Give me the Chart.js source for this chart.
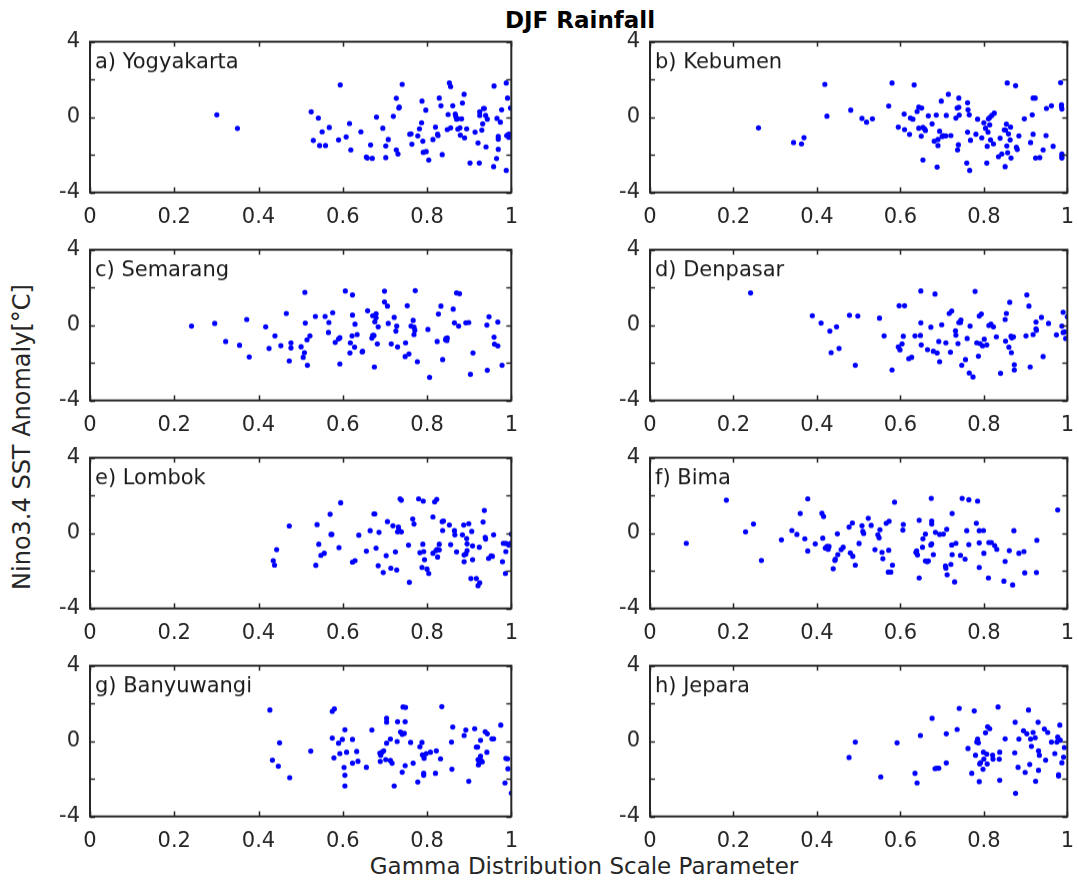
<!DOCTYPE html>
<html>
<head>
<meta charset="utf-8">
<script src="https://cdn.jsdelivr.net/npm/chart.js@4.4.1/dist/chart.umd.min.js"></script>
<style>
  body { margin: 0; background: #fff; width: 1078px; height: 885px; position: relative; overflow: hidden; }
  canvas { position: absolute; }
  .lbl { position: absolute; font-family: "DejaVu Sans", sans-serif; color: #262626; white-space: nowrap; transform: translate(-50%, -50%); }
</style>
</head>
<body>
<div class="lbl" style="left:580px; top:20px; font-size:23px; font-weight:bold; color:#000;">DJF Rainfall</div>
<div class="lbl" style="left:22px; top:437px; font-size:24px; transform: translate(-50%, -50%) rotate(-90deg);">Nino3.4 SST Anomaly[°C]</div>
<div class="lbl" style="left:584px; top:866px; font-size:23px;">Gamma Distribution Scale Parameter</div>

<script>
// tick values
const xTicks = [0, 0.2, 0.4, 0.6, 0.8, 1];
const yTicks = [-4, -2, 0, 2, 4];

// station points: [scale parameter, SST anomaly]
const yogyakarta = [
  [0.301,0.12],[0.350,-0.60],[0.525,0.28],[0.542,-0.05],[0.530,-1.24],[0.551,-0.78],[0.545,-1.51],[0.559,-1.51],[0.568,-0.55],[0.594,1.71],
  [0.590,-1.21],[0.608,-1.05],[0.616,-0.34],[0.619,-1.74],[0.643,-0.78],[0.656,-2.12],[0.658,-2.17],[0.666,-1.48],[0.670,-2.19],[0.680,0.00],
  [0.695,-0.59],[0.702,-1.53],[0.702,-2.15],[0.708,-1.19],[0.720,0.04],[0.727,1.00],[0.727,-1.74],[0.731,-1.96],[0.733,0.48],[0.734,0.53],
  [0.741,1.74],[0.759,-0.91],[0.762,-0.89],[0.764,-1.44],[0.778,-1.00],[0.782,-0.62],[0.787,-0.30],[0.788,0.85],[0.790,-1.28],[0.791,-1.87],
  [0.797,0.37],[0.798,-1.83],[0.804,-2.28],[0.814,-1.19],[0.820,-0.53],[0.825,-0.91],[0.826,-0.98],[0.829,1.01],[0.833,0.60],[0.836,-1.99],
  [0.848,-0.66],[0.850,0.14],[0.853,1.81],[0.856,1.62],[0.856,-0.57],[0.861,0.60],[0.867,0.16],[0.868,0.04],[0.870,-0.11],[0.873,-0.64],
  [0.873,-0.09],[0.878,-0.57],[0.879,-0.96],[0.882,-0.09],[0.884,0.75],[0.888,1.21],[0.889,-1.10],[0.894,-0.62],[0.902,-2.44],[0.914,-0.80],
  [0.921,-1.37],[0.924,-2.44],[0.925,0.28],[0.925,0.09],[0.930,-0.69],[0.932,-0.36],[0.934,0.46],[0.936,0.46],[0.939,0.09],[0.940,-1.58],
  [0.943,-0.11],[0.958,-2.63],[0.959,1.65],[0.965,-2.20],[0.966,-0.07],[0.969,-1.03],[0.969,-1.71],[0.969,-1.17],[0.974,-0.27],[0.977,0.39],
  [0.988,1.81],[0.988,-2.83],[0.989,-0.98],[0.991,1.01],[0.993,-0.92],[0.994,-1.07],[0.996,-0.91],[0.998,0.48]
];
const kebumen = [
  [0.260,-0.57],[0.344,-1.35],[0.363,-1.42],[0.369,-1.09],[0.419,1.74],[0.424,0.05],[0.481,0.37],[0.508,-0.07],[0.519,-0.27],[0.533,-0.09],
  [0.572,0.59],[0.580,1.81],[0.595,-0.53],[0.610,-0.66],[0.609,0.16],[0.622,-0.92],[0.624,-0.05],[0.630,-0.11],[0.633,1.71],[0.640,0.30],
  [0.644,0.53],[0.644,-0.59],[0.650,-1.01],[0.651,0.48],[0.654,-2.28],[0.654,-0.55],[0.658,-0.62],[0.660,-0.71],[0.667,0.07],[0.676,-0.36],
  [0.681,-1.28],[0.686,0.11],[0.688,-2.65],[0.690,-1.19],[0.690,-1.51],[0.694,-0.75],[0.698,0.85],[0.700,-1.03],[0.703,-0.98],[0.709,-1.00],
  [0.710,0.09],[0.715,1.21],[0.721,-0.98],[0.733,-0.05],[0.736,0.48],[0.737,-1.74],[0.739,-1.47],[0.740,1.01],[0.741,0.11],[0.740,0.52],
  [0.759,-2.44],[0.761,0.76],[0.761,-0.80],[0.762,0.39],[0.765,0.12],[0.766,-2.83],[0.768,-1.23],[0.781,-0.91],[0.785,-0.11],[0.795,-1.10],
  [0.800,-0.30],[0.804,-0.59],[0.807,-2.44],[0.808,-1.55],[0.810,-0.80],[0.811,-0.09],[0.814,-0.02],[0.814,-0.41],[0.816,-1.21],[0.819,0.09],
  [0.823,-1.42],[0.825,0.21],[0.835,-2.10],[0.839,-1.12],[0.843,-1.96],[0.849,-0.68],[0.851,-2.63],[0.852,-0.69],[0.854,-0.37],[0.855,-1.53],
  [0.856,1.81],[0.857,-1.89],[0.859,-0.89],[0.863,-1.21],[0.864,-0.53],[0.865,-2.17],[0.876,1.67],[0.878,-1.60],[0.880,-1.72],[0.884,-1.00],
  [0.897,-0.09],[0.912,-1.35],[0.916,0.12],[0.918,-0.91],[0.918,1.01],[0.923,1.01],[0.924,-2.17],[0.934,-2.15],[0.942,-1.74],[0.949,-0.98],
  [0.950,0.46],[0.962,0.60],[0.966,-1.55],[0.984,1.83],[0.986,0.66],[0.986,0.57],[0.987,0.43],[0.987,-1.96],[0.987,-2.08],[0.987,-2.17]
];
const semarang = [
  [0.241,-0.05],[0.296,0.09],[0.322,-0.87],[0.355,-1.07],[0.372,0.30],[0.378,-1.69],[0.417,-0.09],[0.425,-1.24],[0.439,-0.57],[0.453,-1.09],
  [0.466,0.62],[0.473,-1.90],[0.477,-0.94],[0.477,-1.21],[0.501,-1.15],[0.506,-1.71],[0.509,-1.46],[0.510,1.74],[0.511,0.11],[0.515,-0.78],
  [0.516,-2.13],[0.522,-0.57],[0.535,0.46],[0.558,0.46],[0.567,0.14],[0.566,-0.39],[0.576,0.66],[0.582,-0.92],[0.590,-0.73],[0.593,-0.67],
  [0.593,-2.06],[0.606,1.81],[0.617,-1.48],[0.618,-0.94],[0.622,-0.57],[0.623,1.60],[0.623,0.53],[0.628,-1.17],[0.629,0.05],[0.634,-0.50],
  [0.646,-1.42],[0.647,-1.39],[0.659,0.76],[0.669,-0.69],[0.671,-0.55],[0.671,0.50],[0.674,-0.55],[0.675,-2.22],[0.676,0.18],[0.679,0.60],
  [0.679,0.39],[0.682,-1.00],[0.684,-0.09],[0.699,1.80],[0.699,1.23],[0.706,1.01],[0.708,0.09],[0.715,-1.00],[0.722,0.41],[0.726,-0.32],
  [0.728,-0.05],[0.730,-1.16],[0.748,-1.67],[0.749,-0.94],[0.753,1.03],[0.757,-1.53],[0.762,-0.05],[0.767,0.25],[0.769,-0.50],[0.769,-0.11],
  [0.772,1.83],[0.771,-0.27],[0.777,-1.94],[0.802,-0.23],[0.806,-2.77],[0.824,-0.87],[0.827,0.59],[0.833,1.01],[0.837,-1.83],[0.844,-0.78],
  [0.845,-0.71],[0.847,-0.82],[0.848,-0.68],[0.862,0.85],[0.865,0.12],[0.870,1.71],[0.877,1.67],[0.875,-0.05],[0.892,0.12],[0.899,0.14],
  [0.903,-2.61],[0.909,-1.48],[0.942,0.00],[0.943,-2.40],[0.947,0.44],[0.959,-0.64],[0.960,-1.01],[0.968,0.16],[0.968,-1.10],[0.978,-2.13]
];
const denpasar = [
  [0.241,1.71],[0.389,0.50],[0.410,0.11],[0.431,-0.32],[0.434,-1.46],[0.447,-0.09],[0.453,-1.24],[0.478,0.52],[0.492,-2.13],[0.498,0.48],
  [0.550,0.37],[0.561,-0.57],[0.580,-2.38],[0.595,-1.16],[0.597,1.03],[0.599,-1.31],[0.604,-1.00],[0.607,-0.59],[0.610,1.03],[0.620,-1.78],
  [0.627,-1.71],[0.635,-0.57],[0.648,-0.55],[0.649,1.81],[0.649,0.12],[0.650,-1.05],[0.665,-1.30],[0.673,-0.11],[0.679,-1.39],[0.683,1.65],
  [0.688,-1.48],[0.692,-0.87],[0.694,-1.94],[0.699,0.02],[0.709,-0.94],[0.717,0.62],[0.720,-1.44],[0.723,0.75],[0.732,-0.30],[0.733,-0.53],
  [0.738,-0.98],[0.740,0.14],[0.744,0.14],[0.745,0.27],[0.747,-2.13],[0.756,-1.83],[0.760,-0.71],[0.765,-2.54],[0.767,-0.05],[0.774,-2.75],
  [0.779,1.79],[0.783,-0.94],[0.787,-1.65],[0.789,0.48],[0.791,-0.98],[0.794,0.59],[0.797,-1.10],[0.801,-0.75],[0.807,-1.05],[0.812,-0.02],
  [0.817,0.05],[0.823,-0.09],[0.830,-0.62],[0.840,-2.56],[0.851,0.30],[0.852,-0.85],[0.854,0.62],[0.860,-1.17],[0.862,1.21],[0.865,-0.59],
  [0.866,-1.46],[0.867,-0.68],[0.871,-0.62],[0.873,-2.10],[0.873,-2.38],[0.901,-0.57],[0.903,1.60],[0.908,1.01],[0.911,-2.22],[0.918,-0.50],
  [0.925,0.16],[0.925,-0.20],[0.926,-0.28],[0.938,0.41],[0.942,-1.67],[0.955,0.09],[0.974,-0.52],[0.987,-0.05],[0.990,0.68],[0.990,-0.39],
  [0.994,-0.36],[0.996,-0.71],[1.000,0.44]
];
const lombok = [
  [0.435,-1.46],[0.438,-1.70],[0.443,-0.88],[0.473,0.38],[0.536,-1.71],[0.539,0.45],[0.543,-0.59],[0.548,-1.18],[0.556,-1.07],[0.570,1.00],
  [0.572,-0.07],[0.574,-0.07],[0.591,-0.77],[0.595,1.61],[0.623,-1.54],[0.629,-1.46],[0.638,-0.11],[0.656,-0.96],[0.665,0.13],[0.674,1.02],
  [0.676,1.02],[0.679,-0.80],[0.684,-1.73],[0.686,0.04],[0.696,-2.09],[0.703,-1.20],[0.706,0.61],[0.714,-1.86],[0.719,0.39],[0.725,-1.00],
  [0.728,-1.96],[0.730,0.07],[0.732,0.32],[0.733,0.16],[0.736,1.82],[0.739,1.75],[0.739,0.07],[0.756,-0.64],[0.758,-2.61],[0.766,0.75],
  [0.769,0.48],[0.780,1.82],[0.783,-1.04],[0.788,-1.82],[0.790,-0.59],[0.791,1.70],[0.792,-0.98],[0.794,-1.41],[0.800,-1.91],[0.804,-2.14],
  [0.814,0.86],[0.814,-1.07],[0.818,1.66],[0.821,-0.93],[0.823,1.79],[0.824,-0.86],[0.825,-1.27],[0.829,-0.89],[0.829,-0.59],[0.836,0.61],
  [0.837,0.14],[0.839,0.64],[0.853,0.43],[0.856,-0.61],[0.865,0.13],[0.866,-0.09],[0.870,-1.00],[0.884,-0.09],[0.887,0.43],[0.888,-1.16],
  [0.888,-1.52],[0.892,-1.11],[0.894,-0.29],[0.895,-0.57],[0.895,-0.93],[0.899,0.50],[0.904,-2.41],[0.906,0.09],[0.908,-0.68],[0.908,-1.41],
  [0.917,-2.41],[0.921,-2.79],[0.924,-0.75],[0.925,-2.64],[0.933,0.59],[0.936,1.20],[0.938,-0.23],[0.939,-0.32],[0.946,-1.34],[0.952,-1.21],
  [0.955,-1.23],[0.958,-0.09],[0.979,-1.52],[0.981,-0.54],[0.986,-2.14],[0.987,-0.98],[0.987,-0.55],[0.994,-0.64],[0.998,-0.54],[1.000,-0.05]
];
const bima = [
  [0.087,-0.54],[0.183,1.75],[0.229,0.07],[0.248,0.48],[0.267,-1.45],[0.315,-0.36],[0.340,0.14],[0.352,-0.07],[0.360,1.04],[0.371,-0.30],
  [0.378,1.82],[0.378,-0.95],[0.396,-0.57],[0.412,1.05],[0.414,-0.27],[0.416,0.88],[0.420,-0.80],[0.424,-0.71],[0.427,-0.86],[0.429,-0.71],
  [0.439,-1.89],[0.443,-1.45],[0.444,-1.39],[0.449,-0.04],[0.450,-1.14],[0.458,-0.88],[0.463,-0.75],[0.477,0.32],[0.480,-1.05],[0.485,0.54],
  [0.486,-1.23],[0.492,-1.70],[0.501,-0.55],[0.508,0.39],[0.510,0.09],[0.512,-0.02],[0.523,0.79],[0.530,0.41],[0.539,-0.88],[0.546,-0.09],
  [0.549,-0.25],[0.551,0.18],[0.556,-1.02],[0.558,-1.36],[0.566,0.52],[0.571,-2.07],[0.572,-0.91],[0.573,0.63],[0.577,-2.07],[0.581,-1.70],
  [0.586,1.64],[0.606,0.16],[0.607,0.46],[0.637,-1.02],[0.639,-0.95],[0.641,-1.16],[0.645,0.68],[0.645,-2.38],[0.653,-0.75],[0.654,-0.30],
  [0.660,-0.05],[0.660,-1.48],[0.664,-1.52],[0.667,-1.48],[0.673,-0.63],[0.674,1.84],[0.675,0.64],[0.675,0.48],[0.675,-0.57],[0.679,-1.14],
  [0.684,0.04],[0.694,-0.07],[0.703,-0.05],[0.708,-1.75],[0.709,-1.86],[0.711,0.20],[0.712,-2.21],[0.721,-1.66],[0.723,-0.63],[0.724,1.04],
  [0.724,-1.14],[0.730,-2.59],[0.733,-0.54],[0.744,-1.18],[0.748,1.84],[0.755,-1.38],[0.759,0.13],[0.764,1.77],[0.764,-0.61],[0.782,0.52],
  [0.785,1.70],[0.789,0.13],[0.789,-0.52],[0.789,-1.82],[0.799,0.14],[0.800,-1.07],[0.811,-2.38],[0.812,-0.50],[0.818,-0.50],[0.826,-0.66],
  [0.831,-0.86],[0.848,-2.55],[0.851,-1.50],[0.861,-0.93],[0.869,-2.75],[0.872,0.13],[0.884,-1.07],[0.896,-0.98],[0.898,-2.11],[0.926,-2.09],
  [0.927,-0.38],[0.977,1.23]
];
const banyuwangi = [
  [0.427,1.65],[0.433,-1.01],[0.447,-1.33],[0.450,-0.09],[0.474,-1.94],[0.524,-0.53],[0.575,0.16],[0.575,1.58],[0.579,-0.89],[0.580,1.71],
  [0.590,-0.11],[0.593,-0.66],[0.599,0.09],[0.603,-1.40],[0.605,0.60],[0.605,-1.81],[0.605,-2.38],[0.609,-0.59],[0.623,-1.17],[0.623,0.09],
  [0.633,-0.55],[0.636,-1.07],[0.656,-1.39],[0.669,0.59],[0.688,-0.64],[0.689,-1.08],[0.690,-0.75],[0.693,-0.59],[0.697,-0.52],[0.702,-0.98],
  [0.704,1.21],[0.704,1.01],[0.704,-0.11],[0.713,0.11],[0.713,-1.03],[0.717,-1.17],[0.722,-2.38],[0.729,-0.02],[0.730,1.03],[0.737,0.48],
  [0.741,0.36],[0.741,-1.65],[0.743,1.81],[0.746,0.41],[0.748,1.03],[0.749,1.79],[0.748,-1.30],[0.761,-0.07],[0.767,-1.17],[0.778,-2.17],
  [0.783,-0.30],[0.788,-0.07],[0.789,-0.73],[0.792,-0.78],[0.792,-1.71],[0.792,-1.81],[0.793,-0.91],[0.798,-0.66],[0.808,-0.59],[0.820,-1.71],
  [0.822,-0.52],[0.832,-0.94],[0.835,1.83],[0.858,-0.05],[0.859,-1.49],[0.861,0.75],[0.888,0.30],[0.892,0.59],[0.899,-2.13],[0.913,0.66],
  [0.917,-0.32],[0.920,-0.32],[0.921,-0.98],[0.922,-1.26],[0.924,-1.14],[0.925,-0.96],[0.927,-0.80],[0.927,0.04],[0.928,-1.03],[0.931,-1.10],
  [0.938,0.50],[0.942,-0.59],[0.943,0.39],[0.954,0.12],[0.958,0.12],[0.975,0.85],[0.985,-2.22],[0.987,-0.92],[0.991,-0.94],[0.992,-1.47],
  [1.000,-2.76]
];
const jepara = [
  [0.477,-0.87],[0.492,-0.05],[0.553,-1.90],[0.592,-0.09],[0.635,-1.71],[0.640,-2.22],[0.648,0.30],[0.676,1.21],[0.683,-1.46],[0.687,-1.44],
  [0.692,-1.44],[0.710,0.39],[0.710,-1.16],[0.736,0.62],[0.741,1.74],[0.762,-0.39],[0.771,-1.71],[0.777,1.60],[0.780,-0.75],[0.783,-0.05],
  [0.785,0.11],[0.787,-0.09],[0.789,-2.15],[0.790,-1.21],[0.792,-1.14],[0.798,-1.49],[0.799,-0.59],[0.800,-0.96],[0.804,0.44],[0.807,-0.69],
  [0.808,-1.21],[0.809,0.76],[0.814,0.66],[0.821,-0.75],[0.822,-0.96],[0.834,1.81],[0.837,-0.96],[0.838,-0.59],[0.838,-2.08],[0.851,0.12],
  [0.874,-0.62],[0.875,1.00],[0.876,-2.77],[0.882,-1.39],[0.884,0.11],[0.895,0.55],[0.899,-1.66],[0.903,0.39],[0.907,1.65],[0.910,-1.24],
  [0.912,0.11],[0.914,-0.28],[0.918,0.46],[0.923,0.18],[0.924,-2.13],[0.930,1.00],[0.931,-0.52],[0.931,-1.55],[0.933,-0.75],[0.945,0.64],
  [0.948,-1.01],[0.953,0.46],[0.962,-0.05],[0.970,-0.66],[0.975,-0.05],[0.977,0.21],[0.979,-1.78],[0.979,-1.85],[0.982,0.85],[0.983,0.05],
  [0.987,-1.15],[0.991,-0.85],[0.993,-0.34]
];

const stationNames = ['a) Yogyakarta', 'b) Kebumen', 'c) Semarang', 'd) Denpasar',
                      'e) Lombok', 'f) Bima', 'g) Banyuwangi', 'h) Jepara'];
const stationData = [yogyakarta, kebumen, semarang, denpasar, lombok, bima, banyuwangi, jepara];

const AXIS = '#262626';
const FONT = 'DejaVu Sans';
const colLeft = [90, 650];
const colWidth = [424, 420];
const rowTop = [42, 250, 458, 666];
const plotH = 150;
const PAD_L = 60, PAD_T = 14, PAD_R = 16, PAD_B = 40;

// box round the axes, inward tick marks and the station name
function framePlugin(label) {
  return {
    id: 'frame',
    afterDatasetsDraw(chart) {
      const { ctx, chartArea: a, scales } = chart;
      const tl = 5;
      ctx.save();
      ctx.strokeStyle = AXIS;
      ctx.lineWidth = 1.5;
      ctx.beginPath();
      scales.x.ticks.forEach(t => {
        const px = Math.round(scales.x.getPixelForValue(t.value)) + 0.5;
        ctx.moveTo(px, a.bottom); ctx.lineTo(px, a.bottom - tl);
        ctx.moveTo(px, a.top); ctx.lineTo(px, a.top + tl);
      });
      scales.y.ticks.forEach(t => {
        const py = Math.round(scales.y.getPixelForValue(t.value)) + 0.5;
        ctx.moveTo(a.left, py); ctx.lineTo(a.left + tl, py);
        ctx.moveTo(a.right, py); ctx.lineTo(a.right - tl, py);
      });
      ctx.stroke();
      ctx.lineWidth = 2;
      ctx.strokeRect(a.left, a.top, a.right - a.left, a.bottom - a.top);
      ctx.fillStyle = '#1a1a1a';
      ctx.font = '21px "' + FONT + '"';
      ctx.textBaseline = 'alphabetic';
      ctx.textAlign = 'left';
      ctx.fillText(label, a.left + 5, a.top + 26);
      ctx.restore();
    }
  };
}

stationData.forEach((pts, i) => {
  const col = i % 2, row = Math.floor(i / 2);
  const cv = document.createElement('canvas');
  const w = colWidth[col] + PAD_L + PAD_R;
  const h = plotH + PAD_T + PAD_B;
  cv.width = w; cv.height = h;
  cv.style.width = w + 'px'; cv.style.height = h + 'px';
  document.body.appendChild(cv);

  const chart = new Chart(cv.getContext('2d'), {
    type: 'scatter',
    data: {
      datasets: [{
        data: pts.map(p => ({ x: p[0], y: p[1] })),
        backgroundColor: '#0000ff',
        borderWidth: 0,
        pointRadius: 2.6,
        pointHoverRadius: 2.6
      }]
    },
    options: {
      responsive: false,
      maintainAspectRatio: false,
      animation: false,
      events: [],
      layout: { autoPadding: false, padding: { top: PAD_T, right: PAD_R, left: 0, bottom: 0 } },
      plugins: { legend: { display: false }, tooltip: { enabled: false } },
      scales: {
        x: {
          type: 'linear',
          min: xTicks[0], max: xTicks[xTicks.length - 1],
          grid: { display: false, drawTicks: false },
          border: { display: false },
          afterBuildTicks: s => { s.ticks = xTicks.map(v => ({ value: v })); },
          ticks: {
            padding: 12, color: AXIS, maxRotation: 0, autoSkip: false,
            font: { family: FONT, size: 21 },
            callback: v => String(+(+v).toFixed(1))
          },
          afterFit: s => { s.height = PAD_B; }
        },
        y: {
          min: yTicks[0], max: yTicks[yTicks.length - 1],
          grid: { display: false, drawTicks: false },
          border: { display: false },
          afterBuildTicks: s => { s.ticks = yTicks.map(v => ({ value: v })); },
          ticks: {
            padding: 10, color: AXIS, autoSkip: false,
            font: { family: FONT, size: 21 },
            callback: v => (v % 4 === 0 ? String(v) : '')
          },
          afterFit: s => { s.width = PAD_L; }
        }
      }
    },
    plugins: [framePlugin(stationNames[i])]
  });

  // make the plot box exactly plotH tall and place it where the panel sits
  const a = chart.chartArea;
  const short = plotH - (a.bottom - a.top);
  if (short !== 0) chart.resize(w, h + short);
  const b = chart.chartArea;
  cv.style.left = (colLeft[col] - b.left) + 'px';
  cv.style.top = (rowTop[row] - b.top) + 'px';
});
</script>
</body>
</html>
